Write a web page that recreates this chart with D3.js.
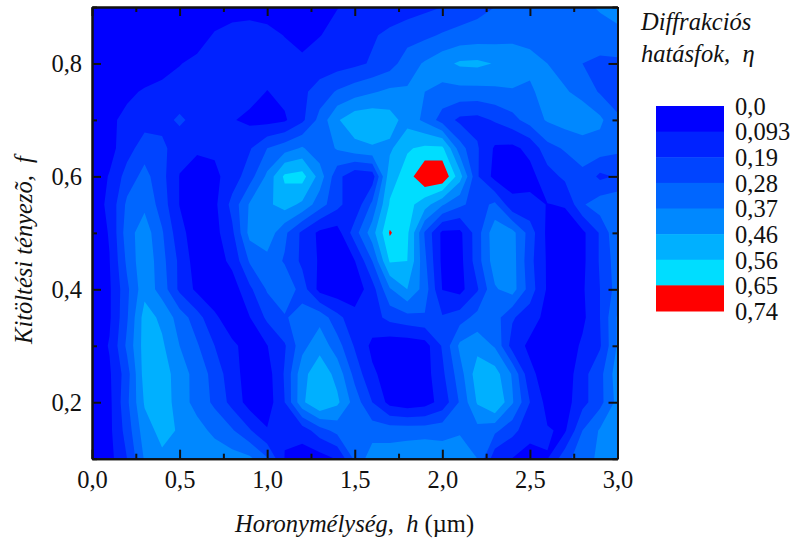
<!DOCTYPE html>
<html>
<head>
<meta charset="utf-8">
<script src="https://cdn.jsdelivr.net/npm/d3@7"></script>
<style>
  body { margin: 0; background: #fff; }
  text { font-family: "Liberation Serif", serif; fill: #111; }
</style>
</head>
<body>
<div id="chart"></div>
<script>
// Grid of the measurements: h in 0.1 steps, f in 0.05 steps (top row is f = 0,9).
const h_values = d3.range(31).map(i => i / 10);
const f_values = d3.range(17).map(i => (90 - i * 5) / 100);

const eta_090 = [.03,.03,.03,.03,.03,.03,.04,.05,.06,.06,.05,.04,.03,.05,.09,.11,.12,.14,.15,.17,.19,.22,.25,.28,.30,.31,.32,.33,.35,.38,.40];
const eta_085 = [.03,.03,.03,.03,.04,.05,.06,.10,.12,.13,.12,.09,.05,.09,.12,.14,.18,.21,.24,.26,.29,.31,.32,.33,.34,.34,.34,.34,.33,.33,.35];
const eta_080 = [.03,.03,.04,.05,.07,.09,.11,.12,.13,.14,.14,.13,.12,.14,.15,.17,.20,.24,.33,.38,.43,.475,.48,.455,.44,.40,.37,.33,.28,.26,.26];
const eta_075 = [.03,.04,.08,.10,.11,.12,.13,.13,.13,.13,.09,.12,.17,.23,.29,.33,.36,.39,.38,.37,.34,.34,.34,.35,.36,.35,.42,.38,.34,.27,.25];
const eta_070 = [.03,.08,.11,.15,.15,.21,.15,.13,.10,.07,.06,.08,.17,.31,.45,.52,.53,.50,.42,.35,.24,.17,.16,.20,.25,.32,.38,.41,.43,.39,.29];
const eta_065 = [.03,.06,.15,.24,.22,.12,.11,.11,.12,.18,.28,.33,.38,.31,.38,.43,.45,.44,.55,.58,.58,.32,.20,.08,.07,.12,.25,.29,.32,.33,.30];
const eta_060 = [.03,.10,.23,.31,.22,.09,.04,.07,.14,.24,.39,.58,.60,.42,.22,.12,.14,.52,.60,.74,.74,.50,.20,.06,.05,.06,.15,.21,.26,.17,.20];
const eta_055 = [.03,.12,.30,.35,.24,.09,.03,.07,.22,.38,.44,.50,.44,.32,.22,.12,.30,.57,.60,.50,.38,.30,.24,.30,.12,.12,.09,.10,.27,.33,.35];
const eta_050 = [.03,.10,.33,.42,.29,.13,.03,.06,.17,.40,.43,.30,.17,.07,.05,.24,.42,.66,.58,.27,.07,.07,.24,.43,.40,.24,.07,.04,.07,.20,.36];
const eta_045 = [.03,.09,.30,.44,.31,.17,.04,.04,.12,.29,.34,.27,.17,.08,.05,.09,.28,.57,.56,.30,.07,.06,.24,.42,.41,.22,.08,.03,.07,.20,.33];
const eta_040 = [.03,.08,.26,.43,.33,.17,.07,.03,.04,.17,.29,.35,.24,.06,.03,.03,.15,.36,.46,.33,.09,.06,.18,.36,.41,.24,.08,.03,.08,.19,.32];
const eta_035 = [.03,.08,.27,.50,.44,.33,.23,.11,.04,.09,.21,.27,.32,.34,.22,.13,.15,.22,.25,.27,.20,.24,.31,.32,.20,.14,.06,.03,.07,.19,.38];
const eta_030 = [.03,.10,.30,.50,.475,.37,.29,.19,.11,.06,.09,.18,.34,.43,.32,.18,.07,.03,.03,.05,.20,.39,.43,.36,.15,.07,.03,.03,.11,.18,.38];
const eta_025 = [.03,.08,.24,.50,.50,.42,.33,.25,.13,.05,.05,.20,.43,.52,.43,.25,.11,.05,.03,.05,.17,.33,.51,.50,.36,.12,.04,.03,.16,.25,.42];
const eta_020 = [.03,.07,.26,.47,.52,.41,.34,.26,.16,.05,.04,.19,.44,.561,.48,.33,.19,.06,.03,.05,.13,.29,.47,.561,.38,.19,.06,.05,.16,.25,.40];
const eta_015 = [.03,.07,.23,.42,.49,.45,.40,.35,.29,.20,.10,.10,.14,.24,.31,.32,.33,.33,.33,.33,.34,.36,.34,.30,.22,.13,.10,.08,.28,.38,.40];
const eta_010 = [.03,.06,.19,.38,.44,.45,.43,.42,.41,.39,.29,.09,.04,.05,.10,.30,.42,.42,.44,.46,.42,.42,.37,.13,.09,.05,.09,.25,.33,.39,.42];

const eta_rows = [eta_090, eta_085, eta_080, eta_075, eta_070, eta_065, eta_060, eta_055, eta_050,
  eta_045, eta_040, eta_035, eta_030, eta_025, eta_020, eta_015, eta_010];

// Contour levels, their labels and the band colours.
const eta_levels = [0, 0.093, 0.19, 0.28, 0.37, 0.46, 0.56, 0.65, 0.74];
const eta_labels = ['0,0', '0,093', '0,19', '0,28', '0,37', '0,46', '0,56', '0,65', '0,74'];
const band_colors = ['#0000ff', '#0022ff', '#0044ff', '#0066ff', '#0088ff', '#00b0ff', '#00ddff', '#ff0000'];

const h_ticks = [0, 0.5, 1, 1.5, 2, 2.5, 3];
const h_minor = [0.25, 0.75, 1.25, 1.75, 2.25, 2.75];
const f_ticks = [0.2, 0.4, 0.6, 0.8];
const f_minor = [0.1, 0.3, 0.5, 0.7, 0.9];

const comma = d3.format('.1f');
const fmt = d => comma(d).replace('.', ',');

const width = 793, height = 539;
const plot = { left: 92, right: 617.5, top: 7, bottom: 458.7 };

const svg = d3.select('#chart').append('svg')
  .attr('width', width)
  .attr('height', height)
  .style('display', 'block');

const x = d3.scaleLinear().domain([0, 3]).range([plot.left, plot.right]);
const y = d3.scaleLinear().domain([0.1, 0.9]).range([plot.bottom, plot.top]);

svg.append('clipPath').attr('id', 'plot_clip')
  .append('rect')
  .attr('x', plot.left).attr('y', plot.top)
  .attr('width', plot.right - plot.left).attr('height', plot.bottom - plot.top);

// Filled bands. Contour coordinates have sample i sitting at i + 0.5.
const contours = d3.contours()
  .size([h_values.length, f_values.length])
  .thresholds(eta_levels.slice(0, band_colors.length))(eta_rows.flat());

const grid_x = d3.scaleLinear().domain([0.5, h_values.length - 0.5]).range([x(0), x(3)]);
const grid_y = d3.scaleLinear().domain([0.5, f_values.length - 0.5]).range([y(0.9), y(0.1)]);
const path = d3.geoPath(d3.geoTransform({
  point(px, py) { this.stream.point(grid_x(px), grid_y(py)); },
}));

svg.append('g')
  .attr('clip-path', 'url(#plot_clip)')
  .selectAll('path')
  .data(contours)
  .join('path')
  .attr('d', path)
  .attr('fill', (d, i) => band_colors[i]);

// Axes: ticks point inward on all four sides.
function style_axis(g) {
  g.selectAll('.domain').attr('stroke', '#111').attr('stroke-width', 2);
  g.selectAll('.tick line').attr('stroke', '#111').attr('stroke-width', 2);
  g.selectAll('text').style('font-size', '24.5px').attr('fill', '#111');
}
function add_axis(axis, tx, ty) {
  return svg.append('g').attr('transform', `translate(${tx},${ty})`).call(axis).call(style_axis);
}

const major = 9, minor = 5;
add_axis(d3.axisBottom(x).tickValues(h_ticks).tickFormat(fmt).tickSizeInner(-major).tickSizeOuter(0).tickPadding(12), 0, plot.bottom);
add_axis(d3.axisBottom(x).tickValues(h_minor).tickFormat('').tickSizeInner(-minor).tickSizeOuter(0), 0, plot.bottom);
add_axis(d3.axisTop(x).tickValues(h_ticks).tickFormat('').tickSizeInner(-major).tickSizeOuter(0), 0, plot.top);
add_axis(d3.axisTop(x).tickValues(h_minor).tickFormat('').tickSizeInner(-minor).tickSizeOuter(0), 0, plot.top);
add_axis(d3.axisLeft(y).tickValues(f_ticks).tickFormat(fmt).tickSizeInner(-major).tickSizeOuter(0).tickPadding(10), plot.left, 0);
add_axis(d3.axisLeft(y).tickValues(f_minor).tickFormat('').tickSizeInner(-minor).tickSizeOuter(0), plot.left, 0);
add_axis(d3.axisRight(y).tickValues(f_ticks).tickFormat('').tickSizeInner(-major).tickSizeOuter(0), plot.right, 0);
add_axis(d3.axisRight(y).tickValues(f_minor).tickFormat('').tickSizeInner(-minor).tickSizeOuter(0), plot.right, 0);

// Axis titles
const x_title = svg.append('text')
  .attr('x', 354.5).attr('y', 531.5)
  .attr('text-anchor', 'middle')
  .style('font-size', '24.5px');
x_title.append('tspan').style('font-style', 'italic').text('Horonymélység,\u00a0\u00a0h');
x_title.append('tspan').text(' (µm)');

svg.append('text')
  .attr('transform', 'translate(32,250) rotate(-90)')
  .attr('text-anchor', 'middle')
  .style('font-size', '24.5px')
  .style('font-style', 'italic')
  .text('Kitöltési tényezõ,\u00a0\u00a0f');

// Legend
const legend_title = svg.append('g').style('font-size', '24.5px').style('font-style', 'italic');
legend_title.append('text').attr('x', 641).attr('y', 30).text('Diffrakciós');
legend_title.append('text').attr('x', 641).attr('y', 62).text('hatásfok,\u00a0\u00a0η');

const legend_y = d3.scalePoint().domain(eta_labels).range([106, 311]);
svg.append('g')
  .selectAll('rect')
  .data(band_colors)
  .join('rect')
  .attr('x', 656)
  .attr('width', 68)
  .attr('y', (d, i) => legend_y(eta_labels[i]))
  .attr('height', legend_y.step() + 0.5)
  .attr('fill', d => d);

svg.append('g')
  .selectAll('text')
  .data(eta_labels)
  .join('text')
  .attr('x', 735)
  .attr('y', d => legend_y(d))
  .attr('dy', '0.36em')
  .style('font-size', '24.5px')
  .text(d => d);
</script>
</body>
</html>
